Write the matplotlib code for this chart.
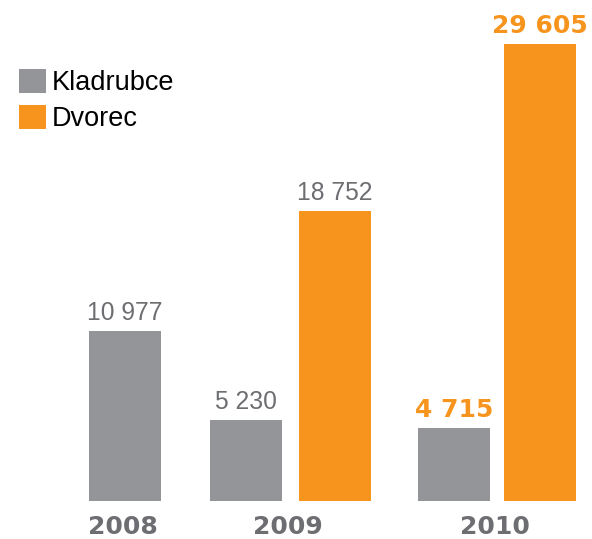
import matplotlib
matplotlib.use("Agg")
import matplotlib.pyplot as plt
from matplotlib.patches import Patch

years = ["2008", "2009", "2010"]
kladrubce = [10977, 5230, 4715]
dvorec = [None, 18752, 29605]
kladrubce_labels = ["10 977", "5 230", "4 715"]
dvorec_labels = [None, "18 752", "29 605"]
series_names = ["Kladrubce", "Dvorec"]

GRAY = "#939598"
ORANGE = "#f7941d"
TEXT_GRAY = "#6d6e71"

W, H = 592, 539
fig = plt.figure(figsize=(W / 100, H / 100), dpi=100)
bottom_px = 501
ax = fig.add_axes([0, (H - bottom_px) / H, 1, bottom_px / H])
ax.set_xlim(0, W)
ax.set_ylim(0, 32430)
ax.axis("off")

# layout (pixel units along x)
group_centers = [125, 290, 497]
offsets = [[0, None], [-44.5, 44.5], [-43, 43]]
bar_w = 72


def value_label(x, y, txt, bold):
    ax.annotate(txt, (x, y), xytext=(0, 8),
                textcoords="offset points", ha="center", va="baseline",
                fontsize=18 if bold else 17.7,
                fontweight="bold" if bold else "normal",
                family="DejaVu Sans" if bold else "Liberation Sans",
                color=ORANGE if bold else TEXT_GRAY)


for i, yr in enumerate(years):
    kx = group_centers[i] + offsets[i][0]
    ax.bar(kx, kladrubce[i], width=bar_w, color=GRAY)
    value_label(kx, kladrubce[i], kladrubce_labels[i], i == 2)
    if dvorec[i] is not None:
        dx = group_centers[i] + offsets[i][1]
        ax.bar(dx, dvorec[i], width=bar_w, color=ORANGE)
        value_label(dx, dvorec[i], dvorec_labels[i], i == 2)
    fig.text((group_centers[i] - 2) / W, 1 - 534 / H, yr, ha="center", va="baseline",
             fontsize=18, fontweight="bold", family="DejaVu Sans", color=TEXT_GRAY)

handles = [Patch(facecolor=GRAY, edgecolor="none"), Patch(facecolor=ORANGE, edgecolor="none")]
fs = 19.5
leg = fig.legend(handles, series_names, loc="upper left",
                 bbox_to_anchor=(19 / W, 1 - 69 / H), frameon=False,
                 borderpad=0, borderaxespad=0,
                 handlelength=1.0, handleheight=1.0, handletextpad=0.22,
                 labelspacing=0.3, prop={"family": "Liberation Sans", "size": fs})

fig.savefig("out.png", dpi=100)
